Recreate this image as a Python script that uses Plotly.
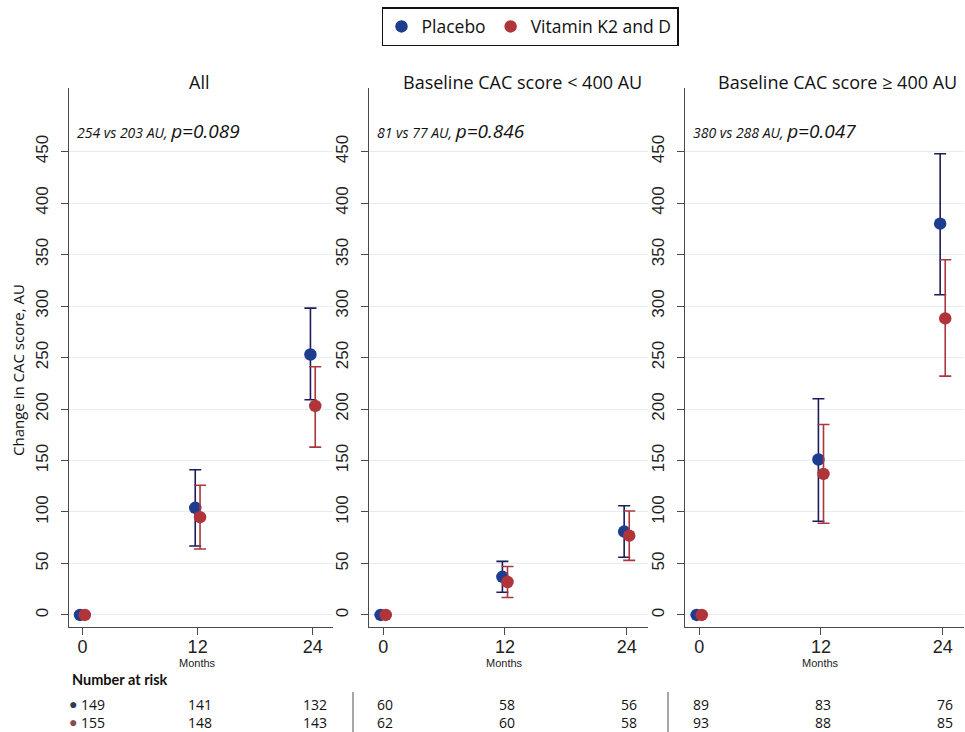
import plotly.graph_objects as go

# ---------------- data ----------------
months = [0, 12, 24]
panel_titles = ["All", "Baseline CAC score < 400 AU", "Baseline CAC score \u2265 400 AU"]
panel_notes_small = ["254 vs 203 AU, ", "81 vs 77 AU, ", "380 vs 288 AU, "]
panel_notes_p = ["p=0.089", "p=0.846", "p=0.047"]

placebo_all = [0, 104, 253]
placebo_all_lo = [0, 67, 209]
placebo_all_hi = [0, 141, 298]
vitamin_all = [0, 95, 203]
vitamin_all_lo = [0, 64, 163]
vitamin_all_hi = [0, 126, 241]

placebo_low = [0, 37, 81]
placebo_low_lo = [0, 22, 56]
placebo_low_hi = [0, 52, 106]
vitamin_low = [0, 32, 77]
vitamin_low_lo = [0, 17, 53]
vitamin_low_hi = [0, 47, 101]

placebo_high = [0, 151, 380]
placebo_high_lo = [0, 91, 311]
placebo_high_hi = [0, 210, 448]
vitamin_high = [0, 137, 288]
vitamin_high_lo = [0, 89, 232]
vitamin_high_hi = [0, 185, 345]

risk_placebo = [[149, 141, 132], [60, 58, 56], [89, 83, 76]]
risk_vitamin = [[155, 148, 143], [62, 60, 58], [93, 88, 85]]

y_ticks = [0, 50, 100, 150, 200, 250, 300, 350, 400, 450]
x_ticks = [0, 12, 24]

# ---------------- styling ----------------
W, H = 965, 732
BLUE_DOT = "#1f3d8f"
BLUE_BAR = "#1c1c5c"
RED_DOT = "#b0353b"
RED_BAR = "#a8383e"
AX = "#4a4a4a"
GRID = "#e7ecf0"
TXT_FONT = "Open Sans"
NUM_FONT = "Liberation Sans"

x_domains = [(69 / W, 333 / W), (369 / W, 648 / W), (685 / W, 964 / W)]
title_x = [199 / W, 522 / W, 837 / W]
y_domain = (1 - 627 / H, 1 - 88 / H)
offset = 0.25

series = [
    (placebo_all, placebo_all_lo, placebo_all_hi, vitamin_all, vitamin_all_lo, vitamin_all_hi),
    (placebo_low, placebo_low_lo, placebo_low_hi, vitamin_low, vitamin_low_lo, vitamin_low_hi),
    (placebo_high, placebo_high_lo, placebo_high_hi, vitamin_high, vitamin_high_lo, vitamin_high_hi),
]

fig = go.Figure()
annotations = []
shapes = []

for i, (pm, plo, phi, vm, vlo, vhi) in enumerate(series):
    sfx = "" if i == 0 else str(i + 1)
    xa, ya = "x" + sfx, "y" + sfx
    fig.add_trace(go.Scatter(
        x=[m - offset for m in months], y=pm, mode="markers",
        name="Placebo", legendgroup="p", showlegend=(i == 0),
        marker=dict(size=12.5, color=BLUE_DOT),
        error_y=dict(type="data", symmetric=False,
                     array=[h - m for h, m in zip(phi, pm)],
                     arrayminus=[m - l for m, l in zip(pm, plo)],
                     color=BLUE_BAR, thickness=1.6, width=6),
        xaxis=xa, yaxis=ya,
    ))
    fig.add_trace(go.Scatter(
        x=[m + offset for m in months], y=vm, mode="markers",
        name="Vitamin K2 and D", legendgroup="v", showlegend=(i == 0),
        marker=dict(size=12.5, color=RED_DOT),
        error_y=dict(type="data", symmetric=False,
                     array=[h - m for h, m in zip(vhi, vm)],
                     arrayminus=[m - l for m, l in zip(vm, vlo)],
                     color=RED_BAR, thickness=1.6, width=6),
        xaxis=xa, yaxis=ya,
    ))

    fig.update_layout(**{
        "xaxis" + sfx: dict(
            domain=list(x_domains[i]), anchor=ya, range=[-1.4, 26.1],
            tickvals=x_ticks, ticktext=[str(t) for t in x_ticks],
            ticks="outside", ticklen=7, tickwidth=1.3, tickcolor=AX,
            showline=True, linecolor=AX, linewidth=1.3,
            showgrid=False, zeroline=False, ticklabelstandoff=-4,
            tickfont=dict(family=NUM_FONT, size=18, color="#222"),
        ),
        "yaxis" + sfx: dict(
            domain=list(y_domain), anchor=xa, range=[-11.7, 511.8],
            tickvals=y_ticks, ticktext=[str(t) for t in y_ticks], tickangle=-90,
            ticks="outside", ticklen=7, tickwidth=1.3, tickcolor=AX,
            showline=True, linecolor=AX, linewidth=1.3, ticklabelstandoff=6,
            showgrid=True, gridcolor=GRID, gridwidth=1, zeroline=False,
            tickfont=dict(family=NUM_FONT, size=17, color="#222"),
        ),
    })

    annotations.append(dict(
        text=panel_titles[i], xref="paper", yref="paper", x=title_x[i], y=1 - 82 / H,
        xanchor="center", yanchor="middle", showarrow=False,
        font=dict(family=TXT_FONT, size=18, color="#111"),
    ))
    annotations.append(dict(
        text=("<i><span style='font-size:14px'>" + panel_notes_small[i] +
              "</span><span style='font-size:19px'>" + panel_notes_p[i] + "</span></i>"),
        xref="paper", yref="paper", x=x_domains[i][0] + 6 / W, y=1 - 131 / H,
        xanchor="left", yanchor="middle", showarrow=False,
        font=dict(family=TXT_FONT, size=14, color="#111"),
    ))
    annotations.append(dict(
        text="Months", xref=xa, yref="paper", x=12, y=1 - 663 / H,
        xanchor="center", yanchor="middle", showarrow=False,
        font=dict(family=NUM_FONT, size=11, color="#222"),
    ))
    for j, m in enumerate(months):
        shift = 11 if (i == 0 and j == 0) else 2
        for vals, yy in ((risk_placebo, 704), (risk_vitamin, 722)):
            annotations.append(dict(
                text=str(vals[i][j]), xref=xa, yref="paper", x=m, y=1 - yy / H,
                xshift=shift, xanchor="center", yanchor="middle", showarrow=False,
                font=dict(family=TXT_FONT, size=14, color="#111"),
            ))

# number at risk header and dots
annotations.append(dict(
    text="<b>Number at risk</b>", xref="paper", yref="paper", x=70 / W, y=1 - 679 / H,
    xanchor="left", yanchor="middle", showarrow=False,
    font=dict(family="Lato", size=14.5, color="#111"),
))
annotations.append(dict(
    text="\u25CF", xref="paper", yref="paper", x=73 / W, y=1 - 704 / H,
    xanchor="center", yanchor="middle", showarrow=False,
    font=dict(family=NUM_FONT, size=14, color="#2b3d55"),
))
annotations.append(dict(
    text="\u25CF", xref="paper", yref="paper", x=73 / W, y=1 - 722 / H,
    xanchor="center", yanchor="middle", showarrow=False,
    font=dict(family=NUM_FONT, size=14, color="#874a50"),
))
# y-axis title
annotations.append(dict(
    text="Change in CAC score, AU", xref="paper", yref="paper", x=18 / W, y=1 - 370 / H,
    xanchor="center", yanchor="middle", textangle=-90, showarrow=False,
    font=dict(family=TXT_FONT, size=15, color="#111"),
))

for xs in (353, 668):
    shapes.append(dict(type="line", xref="paper", yref="paper",
                       x0=xs / W, x1=xs / W, y0=1 - 692 / H, y1=0,
                       line=dict(color="#8a8a8a", width=1.5)))

fig.update_layout(
    width=W, height=H,
    margin=dict(l=0, r=0, t=0, b=0),
    paper_bgcolor="white", plot_bgcolor="white",
    annotations=annotations, shapes=shapes,
    legend=dict(
        orientation="h", x=530 / W, xanchor="center", y=1 - 7 / H, yanchor="top",
        bordercolor="#111", borderwidth=1.5, bgcolor="white",
        font=dict(family=TXT_FONT, size=17.5, color="#111"),
        itemwidth=30,
    ),
)

fig.write_html("out.html", config={"displayModeBar": False},
               post_script="document.body.style.margin='0';document.body.style.overflow='hidden';")
